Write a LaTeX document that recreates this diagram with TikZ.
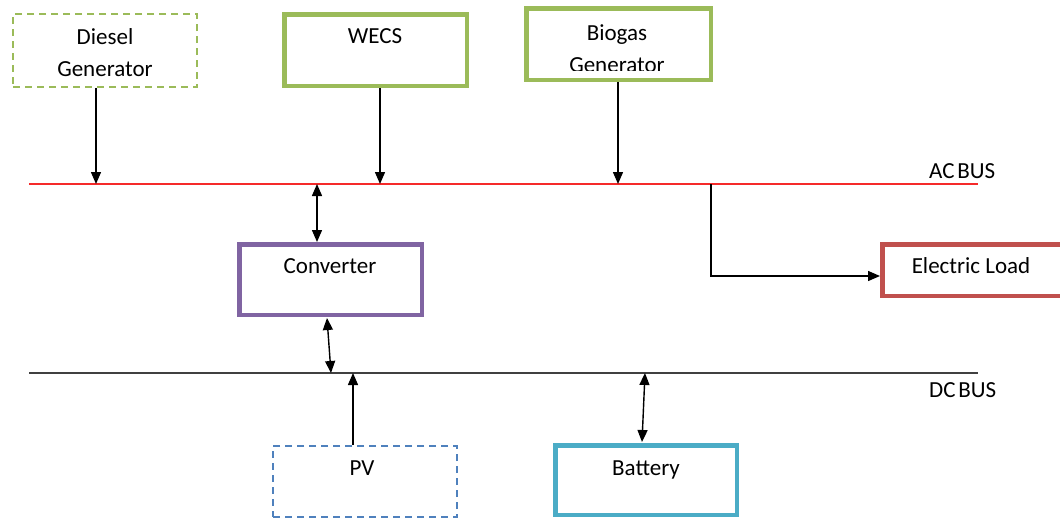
\documentclass[tikz,border=0pt]{standalone}
\usepackage{fontspec}
\setmainfont{Carlito}
\usetikzlibrary{arrows.meta}
\definecolor{gr}{HTML}{9BBB59}
\definecolor{pu}{HTML}{8064A2}
\definecolor{rd}{HTML}{C0504D}
\definecolor{cy}{HTML}{4BACC6}
\definecolor{bl}{HTML}{4F81BD}
\definecolor{acred}{HTML}{F52A2A}
\definecolor{dcgray}{HTML}{404040}
\tikzset{
  thickbox/.style={draw, line width=4.5pt, inner sep=0pt},
  dashbox/.style={draw, line width=1.8pt, dash pattern=on 7pt off 5pt, inner sep=0pt},
  lbl/.style={font=\fontsize{23}{27}\selectfont, anchor=base, inner sep=0pt},
  arr/.style={-{Triangle[length=12pt,width=10pt]}, line width=1.4pt},
  darr/.style={{Triangle[length=12pt,width=10pt]}-{Triangle[length=12pt,width=10pt]}, line width=1.4pt},
  bus/.style={line width=1.6pt}
}
\begin{document}
\begin{tikzpicture}[x=1pt,y=-1pt]
\useasboundingbox (0,0) rectangle (1060,522);
% boxes
\node[dashbox, draw=gr, minimum width=184pt, minimum height=73pt] (diesel) at (105,50.5) {};
\node[thickbox, draw=gr, minimum width=182.5pt, minimum height=71.5pt] (wecs) at (375.5,50) {};
\node[thickbox, draw=gr, minimum width=184.5pt, minimum height=71.5pt] (biogas) at (618.5,44) {};
\node[thickbox, draw=pu, minimum width=182.5pt, minimum height=70.5pt] (conv) at (330.5,279.5) {};
\node[thickbox, draw=rd, minimum width=179.5pt, minimum height=51.5pt] (load) at (972,270) {};
\node[dashbox, draw=bl, minimum width=184pt, minimum height=71pt] (pv) at (365,481.5) {};
\node[thickbox, draw=cy, minimum width=181.5pt, minimum height=69.5pt] (batt) at (646,480) {};
% texts
\node[lbl] (dieselT1) at (105,44) {Diesel};
\node[lbl] (dieselT2) at (105,76) {Generator};
\node[lbl] (wecsT) at (375,43) {WECS};
\node[lbl] (biogasT1) at (617,40) {Biogas};
\begin{scope}
\clip (520,0) rectangle (720,70.5);
\node[lbl] (biogasT2) at (617,72) {Generator};
\end{scope}
\node[lbl] (convT) at (330,273) {Converter};
\node[lbl] (loadT) at (971,273) {Electric Load};
\node[lbl] (pvT) at (362,475) {PV};
\node[lbl] (battT) at (646,475) {Battery};
% buses
\coordinate (acL) at (29,184);
\coordinate (acR) at (978,184);
\coordinate (dcL) at (29,373);
\coordinate (dcR) at (978,373);
\draw[bus, acred] (acL) -- (acR);
\draw[bus, dcgray] (dcL) -- (dcR);
\node[lbl, anchor=base west] (acT) at (929,178) {AC\hspace{0.12em}BUS};
\node[lbl, anchor=base west] (dcT) at (929,397) {DC\hspace{0.12em}BUS};
% connection points
\coordinate (dA) at (96,184);
\coordinate (wA) at (380,184);
\coordinate (bA) at (618,184);
\coordinate (cA) at (317,184);
\coordinate (cB) at (327,318);
\coordinate (cD) at (331,373);
\coordinate (lA) at (711,184);
\coordinate (lB) at (711,276);
\coordinate (pA) at (353,373);
\coordinate (bT) at (645,373);
\coordinate (bB) at (642,442);
% connectors
\draw[arr] (diesel.south -| dA) -- (dA);
\draw[arr] (wecs.south -| wA) -- (wA);
\draw[arr] (biogas.south -| bA) -- (bA);
\draw[darr] (cA) -- (conv.north -| cA);
\draw[darr] (cB) -- (cD);
\draw[arr] (lA) -- (lB) -- (lB -| load.west);
\draw[arr] (pv.north -| pA) -- (pA);
\draw[darr] (bT) -- (bB);
\end{tikzpicture}
\end{document}
